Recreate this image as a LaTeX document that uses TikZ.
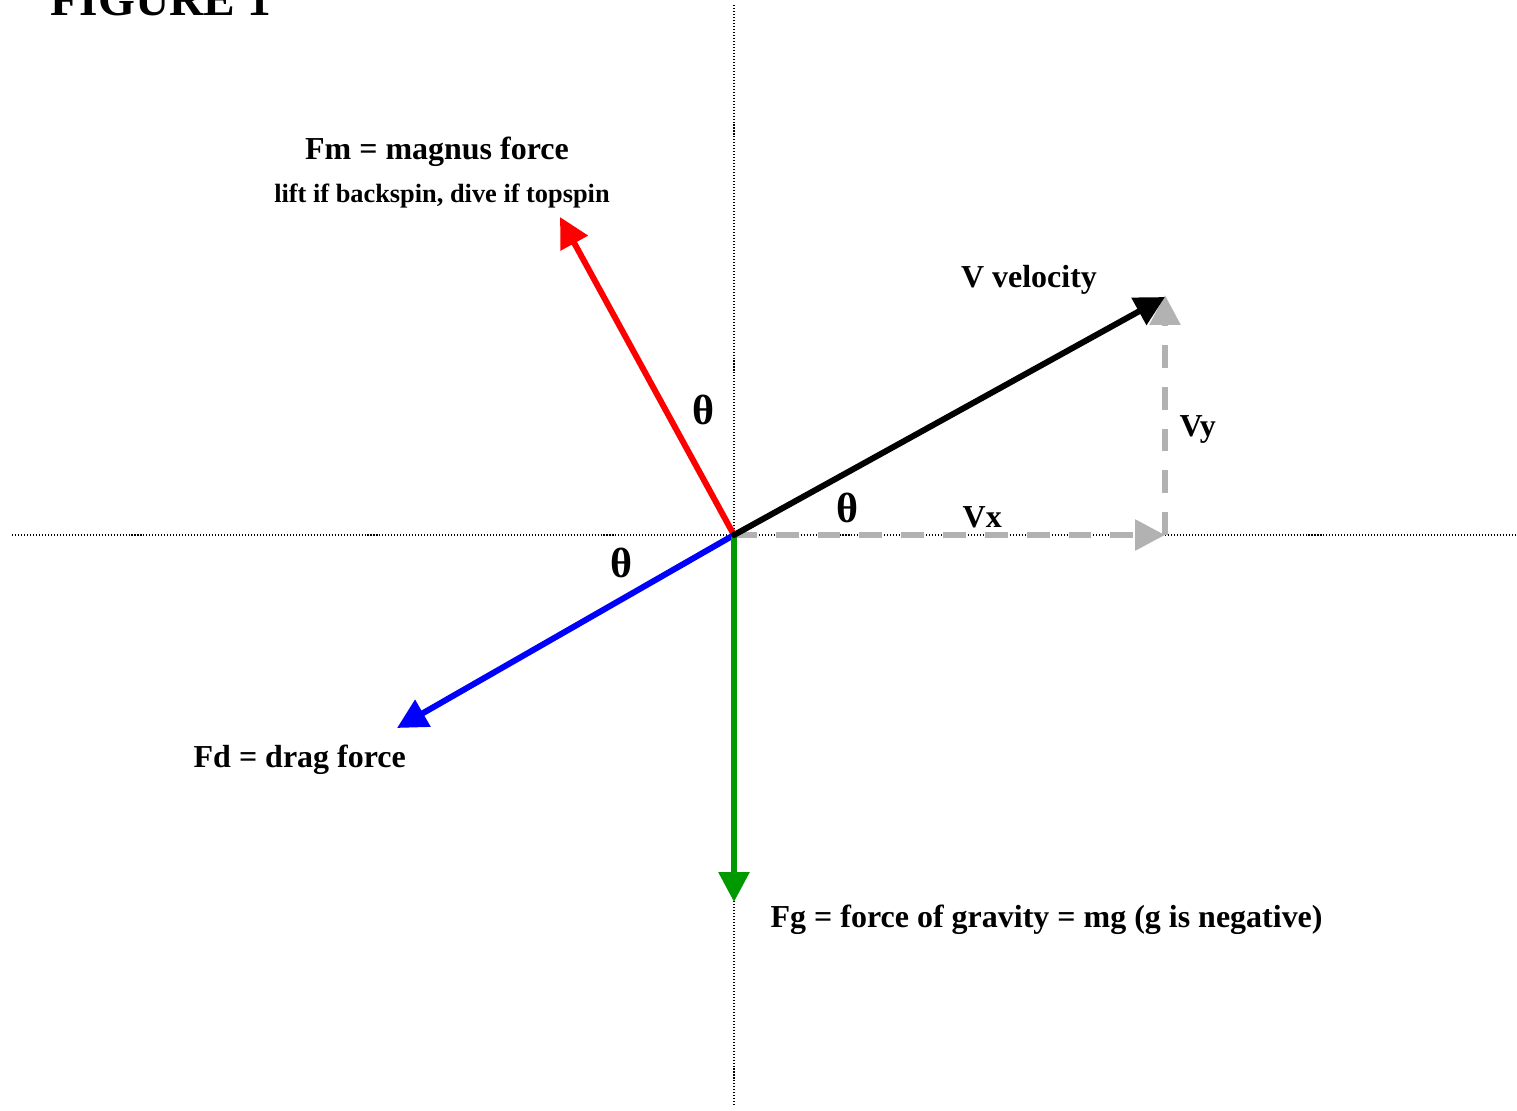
\documentclass[tikz,border=0pt]{standalone}
\usepackage{fontspec}
\setmainfont{Liberation Serif}
\usetikzlibrary{arrows.meta}
\definecolor{vgreen}{RGB}{0,153,0}
\definecolor{vgray}{RGB}{178,178,178}

\begin{document}
\begin{tikzpicture}[line cap=round,line join=round,
  vec/.style={line width=1.7pt,-{Triangle[length=8.5pt,width=8.5pt]}},
  comp/.style={vec,vgray,line cap=butt,dash pattern=on 6.5pt off 5.4pt},
  axis/.style={line width=0.3pt,line cap=butt,dash pattern=on 0.3pt off 0.55pt},
  lbl/.style={inner sep=0pt,anchor=base west,font=\fontsize{9.1}{11}\selectfont\bfseries},
  ang/.style={inner sep=0pt,font=\fontsize{12}{14}\selectfont\bfseries}]
  \useasboundingbox (0,0) rectangle (15.17,11.10);
  \coordinate (O) at (7.34,5.75);
  \coordinate (xl) at (0.12,5.75);
  \coordinate (xr) at (15.17,5.75);
  \coordinate (yt) at (7.34,11.05);
  \coordinate (yb) at (7.34,0.03);
  \coordinate (Fm) at (5.60,8.93);
  \coordinate (V) at (11.65,8.13);
  \coordinate (Vx) at (11.65,5.75);
  \coordinate (Vy) at (11.65,8.15);
  \coordinate (Fd) at (3.97,3.82);
  \coordinate (Fg) at (7.34,2.08);
  \draw[axis] (xl) -- (xr);
  \draw[axis] (yt) -- (yb);
  \draw[comp] (O) -- (Vx);
  \draw[comp] (Vx) -- (Vy);
  \draw[vec,red] (O) -- (Fm);
  \draw[vec,blue] (O) -- (Fd);
  \draw[vec,vgreen] (O) -- (Fg);
  \draw[vec,black] (O) -- (V);
  \node[lbl,anchor=base west,font=\fontsize{13.5}{16}\selectfont\bfseries] (title) at (0.50,10.95) {FIGURE 1};
  \node[lbl,anchor=base] (fmlbl) at (4.37,9.51) {Fm = magnus force};
  \node[lbl,anchor=base,font=\fontsize{7.5}{9}\selectfont\bfseries] (fmnote) at (4.42,9.08) {lift if backspin, dive if topspin};
  \node[lbl,anchor=base] (vlbl) at (10.29,8.23) {V velocity};
  \node[lbl] (vylbl) at (11.79,6.74) {Vy};
  \node[lbl] (vxlbl) at (9.62,5.83) {Vx};
  \node[lbl] (fdlbl) at (1.93,3.43) {Fd = drag force};
  \node[lbl] (fglbl) at (7.70,1.83) {Fg = force of gravity = mg (g is negative)};
  \node[ang] (thm) at (7.04,7.00) {θ};
  \node[ang] (thv) at (8.48,6.02) {θ};
  \node[ang] (thd) at (6.22,5.47) {θ};
\end{tikzpicture}
\end{document}
